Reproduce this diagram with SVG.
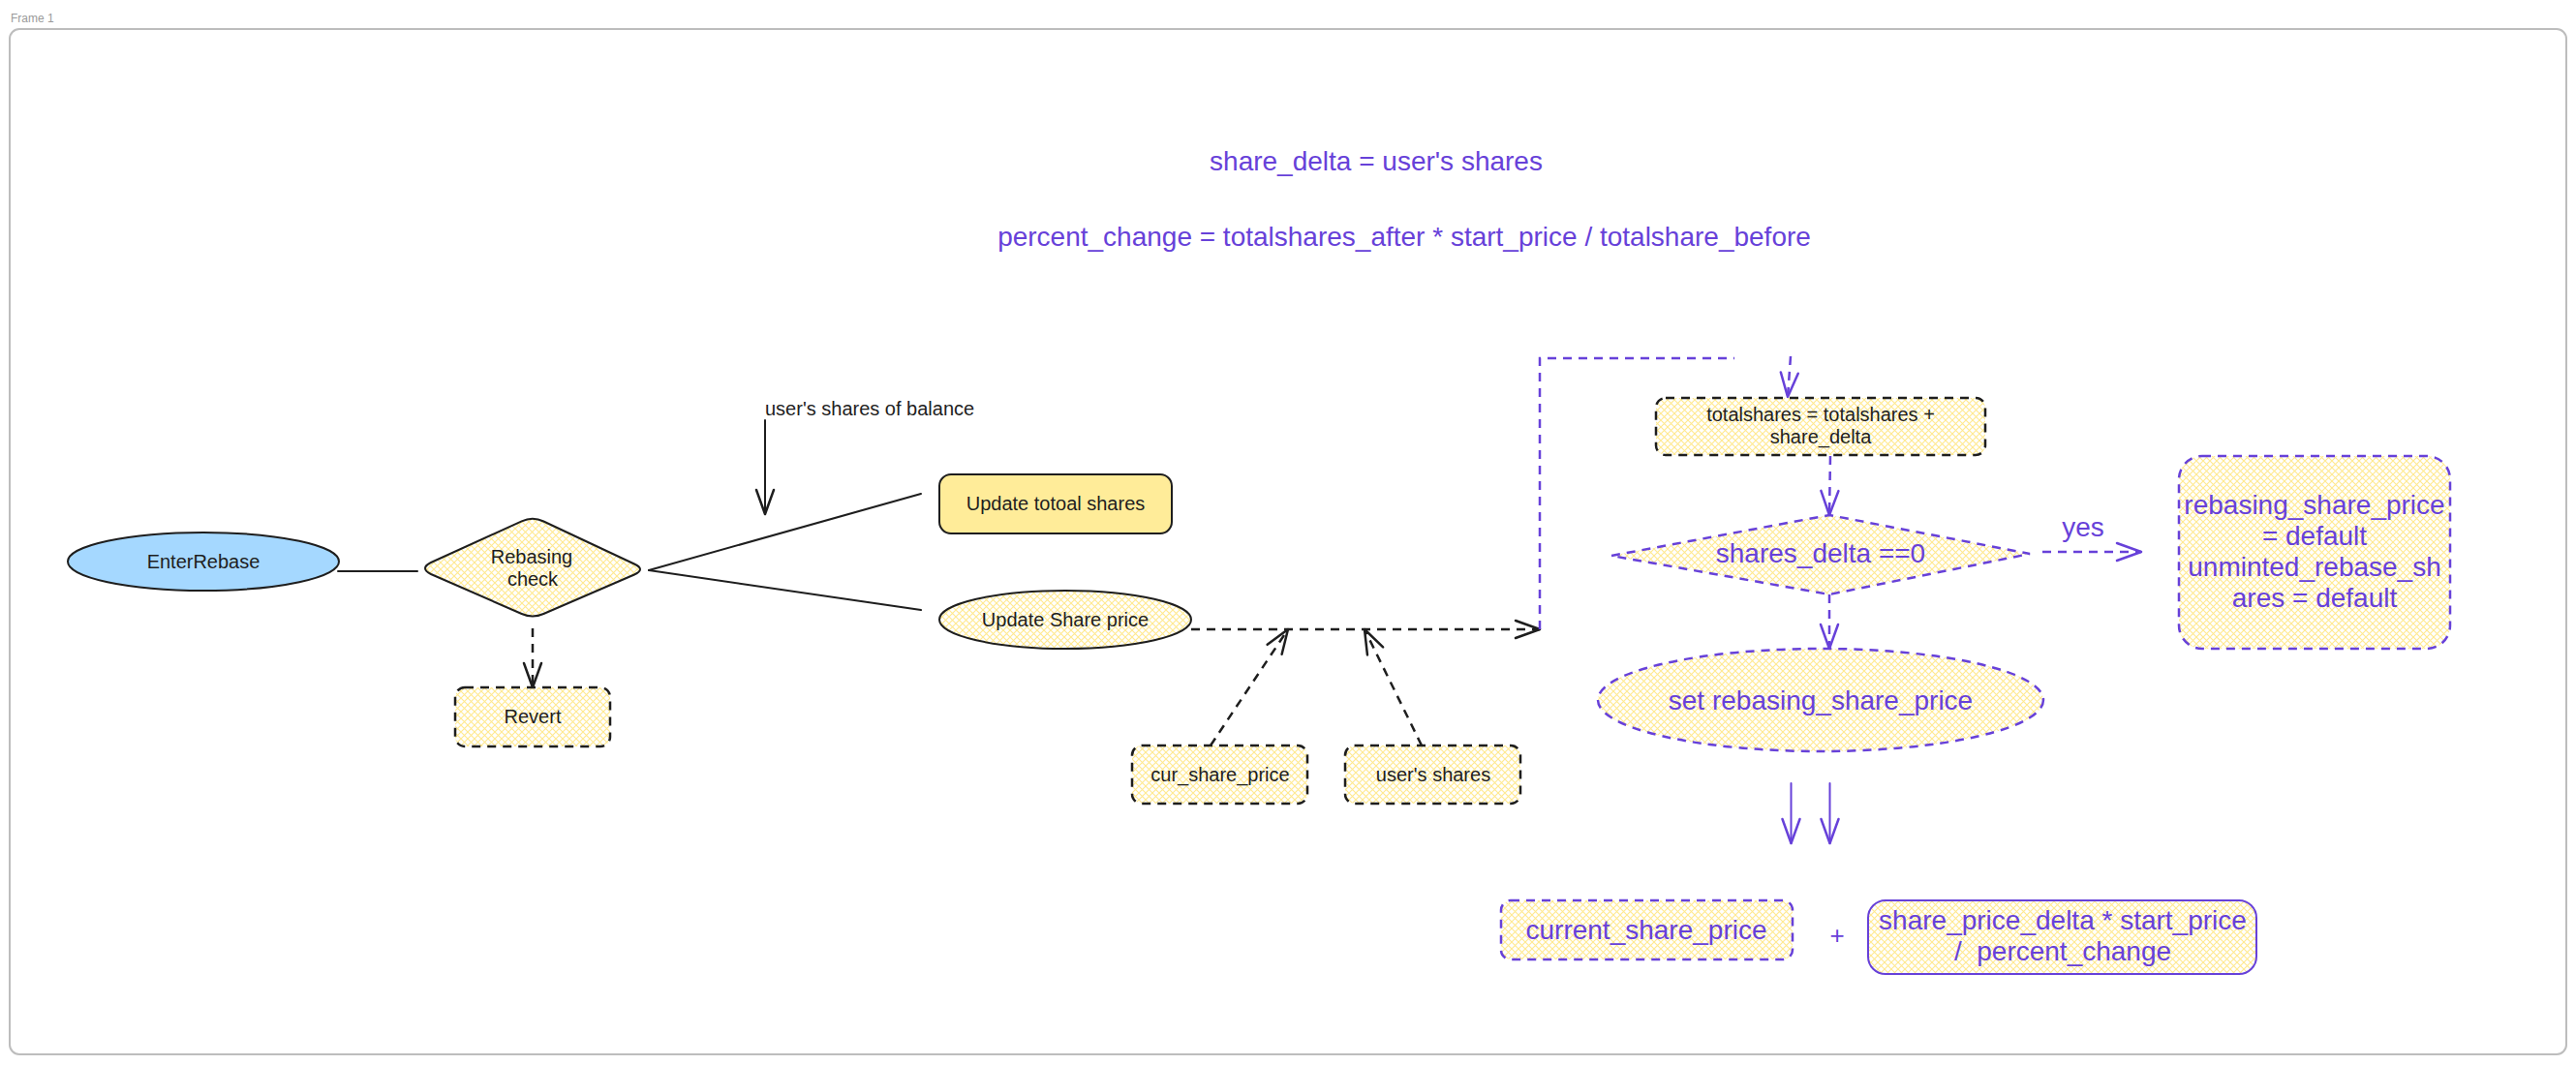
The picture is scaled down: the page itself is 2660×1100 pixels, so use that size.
<svg xmlns="http://www.w3.org/2000/svg" width="2660" height="1100" viewBox="0 0 2660 1100">
<style>
text{font-family:"Liberation Sans",Arial,sans-serif;}
.t{font-size:20px;fill:#1e1e1e;text-anchor:middle;}
.p{font-size:28px;fill:#6741d9;text-anchor:middle;}
.bk{fill:none;stroke:#1e1e1e;stroke-width:2;stroke-linecap:round;}
.bkd{fill:none;stroke:#1e1e1e;stroke-width:2.5;stroke-dasharray:9 7;}
.pu{fill:none;stroke:#6741d9;stroke-width:2;stroke-linecap:round;}
.pud{fill:none;stroke:#6741d9;stroke-width:2.5;stroke-dasharray:9 7;}
.hb{fill:url(#hatch);stroke:#1e1e1e;stroke-width:2.5;stroke-dasharray:9 7;}
.hp{fill:url(#hatch);stroke:#6741d9;stroke-width:2.5;stroke-dasharray:9 7;}
</style>
<defs>
<pattern id="hatch" patternUnits="userSpaceOnUse" width="7" height="7">
<rect width="7" height="7" fill="#ffffff"/>
<path d="M0,0 L7,7 M7,0 L0,7" stroke="#ffe98f" stroke-width="1.1"/>
</pattern>
<marker id="ab" markerUnits="userSpaceOnUse" viewBox="-30 -15 34 30" refX="0" refY="0" markerWidth="34" markerHeight="30" orient="auto" overflow="visible">
<path d="M-25,-9 L0,0 L-25,9" fill="none" stroke="#1e1e1e" stroke-width="2.5" stroke-linecap="round" stroke-linejoin="round"/>
</marker>
<marker id="ap" markerUnits="userSpaceOnUse" viewBox="-30 -15 34 30" refX="0" refY="0" markerWidth="34" markerHeight="30" orient="auto" overflow="visible">
<path d="M-25,-9 L0,0 L-25,9" fill="none" stroke="#6741d9" stroke-width="2.5" stroke-linecap="round" stroke-linejoin="round"/>
</marker>
</defs>
<rect width="2660" height="1100" fill="#ffffff"/>
<g id="frame">
<text x="11" y="23" style="font-size:12px;fill:#9a9a9a;">Frame 1</text>
<rect x="10" y="30" width="2640" height="1059" rx="10" fill="none" stroke="#bdbdbd" stroke-width="2"/>
</g>
<g id="title">
<text class="p" x="1421" y="176">share_delta = user's shares</text>
<text class="p" x="1450" y="254">percent_change = totalshares_after * start_price / totalshare_before</text>
</g>
<g id="connectors">
<line class="bk" x1="349" y1="590" x2="431" y2="590"/>
<line class="bkd" x1="550" y1="649" x2="550" y2="710" marker-end="url(#ab)"/>
<line class="bk" x1="670" y1="589" x2="951" y2="510"/>
<line class="bk" x1="670" y1="589" x2="951" y2="630"/>
<line class="bk" x1="790" y1="434" x2="790" y2="531" marker-end="url(#ab)"/>
<line class="bkd" x1="1230" y1="650" x2="1590" y2="650" marker-end="url(#ab)"/>
<line class="bkd" x1="1250" y1="770" x2="1330" y2="650" marker-end="url(#ab)"/>
<line class="bkd" x1="1468" y1="770" x2="1409" y2="650" marker-end="url(#ab)"/>
<polyline class="pud" points="1590,650 1590,370 1791,370"/>
<line class="pud" x1="1849" y1="368" x2="1846" y2="410" marker-end="url(#ap)"/>
<line class="pud" x1="1890" y1="471" x2="1889" y2="532" marker-end="url(#ap)"/>
<line class="pud" x1="1889" y1="614" x2="1889" y2="670" marker-end="url(#ap)"/>
<line class="pud" x1="2109" y1="570" x2="2211" y2="570" marker-end="url(#ap)"/>
<text class="p" x="2151" y="554">yes</text>
<line class="pu" x1="1849.5" y1="809" x2="1849.5" y2="871" marker-end="url(#ap)"/>
<line class="pu" x1="1889.5" y1="809" x2="1889.5" y2="871" marker-end="url(#ap)"/>
</g>
<g id="enter-rebase">
<ellipse cx="210" cy="580" rx="140" ry="30" fill="#a5d8ff" stroke="#1e1e1e" stroke-width="2"/>
<text class="t" x="210" y="587">EnterRebase</text>
</g>
<g id="rebasing-check">
<path d="M445,581 L538.7,538.4 Q550,533 561.3,538.5 L655,582.5 Q667,588 655,593.5 L561.3,634 Q550,639 538.7,634 L445,593 Q433,587 445,581 Z" fill="url(#hatch)" stroke="#1e1e1e" stroke-width="2"/>
<text class="t" x="549" y="582">Rebasing</text>
<text class="t" x="550" y="605">check</text>
</g>
<g id="revert">
<rect class="hb" x="470" y="710" width="160" height="61" rx="10"/>
<text class="t" x="550" y="747">Revert</text>
</g>
<g id="balance-label">
<text class="t" x="790" y="429" style="text-anchor:start;">user's shares of balance</text>
</g>
<g id="update-total-shares">
<rect x="970" y="490" width="240" height="61" rx="12" fill="#ffec99" stroke="#1e1e1e" stroke-width="2"/>
<text class="t" x="1090" y="527">Update totoal shares</text>
</g>
<g id="update-share-price">
<ellipse cx="1100" cy="640" rx="130" ry="30" fill="url(#hatch)" stroke="#1e1e1e" stroke-width="2"/>
<text class="t" x="1100" y="647">Update Share price</text>
</g>
<g id="cur-share-price">
<rect class="hb" x="1169" y="770" width="181" height="60" rx="10"/>
<text class="t" x="1260" y="807">cur_share_price</text>
</g>
<g id="users-shares">
<rect class="hb" x="1389" y="770" width="181" height="60" rx="10"/>
<text class="t" x="1480" y="807">user's shares</text>
</g>
<g id="totalshares">
<rect class="hb" x="1710" y="411" width="340" height="59" rx="10"/>
<text class="t" x="1880" y="435">totalshares = totalshares +</text>
<text class="t" x="1880" y="458">share_delta</text>
</g>
<g id="shares-delta-check">
<polygon class="hp" points="1664,574 1889,532 2096,572 1889,614"/>
<text class="p" x="1880" y="581">shares_delta ==0</text>
</g>
<g id="set-rebasing">
<ellipse class="hp" cx="1880" cy="723" rx="230" ry="53"/>
<text class="p" x="1880" y="733">set rebasing_share_price</text>
</g>
<g id="defaults">
<rect class="hp" x="2250" y="471" width="280" height="199" rx="24"/>
<text class="p" x="2390" y="531">rebasing_share_price</text>
<text class="p" x="2390" y="563">= default</text>
<text class="p" x="2390" y="595">unminted_rebase_sh</text>
<text class="p" x="2390" y="627">ares = default</text>
</g>
<g id="current-share-price">
<rect class="hp" x="1550" y="930" width="301" height="61" rx="10"/>
<text class="p" x="1700" y="970">current_share_price</text>
</g>
<g id="plus">
<text class="p" x="1897" y="975" style="font-size:26px;">+</text>
</g>
<g id="share-price-delta">
<rect x="1929" y="930" width="401" height="76" rx="18" fill="url(#hatch)" stroke="#6741d9" stroke-width="2"/>
<text class="p" x="2130" y="960">share_price_delta * start_price</text>
<text class="p" x="2130" y="992" xml:space="preserve">/  percent_change</text>
</g>
</svg>
